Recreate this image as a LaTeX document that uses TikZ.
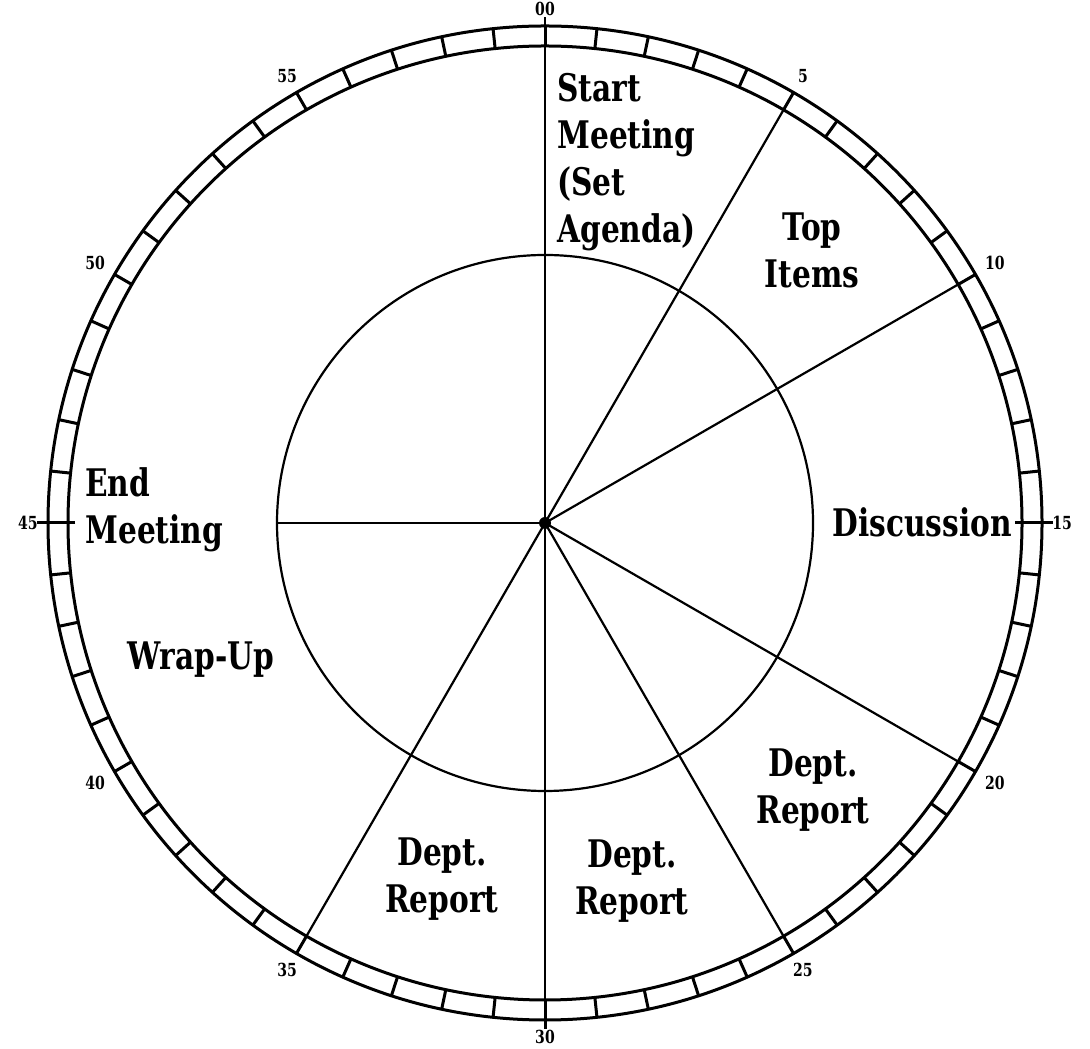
\documentclass[tikz,border=0pt]{standalone}
\usepackage{fontspec}
\setmainfont{DejaVu Serif}[FakeStretch=0.78]
\usetikzlibrary{calc}
\tikzset{
	ring/.style  = {line width=1.5pt, black},
	spoke/.style = {line width=1.1pt, black},
	lbl/.style   = {font=\fontsize{19}{23.5}\selectfont\bfseries, align=#1, inner sep=0pt},
	lbl/.default = center,
	num/.style   = {font=\fontsize{9}{10}\selectfont\bfseries, inner sep=2pt},
}

\begin{document}
\begin{tikzpicture}[x=0.5pt, y=0.5pt]
		
		\useasboundingbox (0,0) rectangle (1090,1048);
		
		%% centre of the dial
		\coordinate (c) at (545,525);
		
		%%═══════════════════════════════════════════════════════════════════
		%% DIAL RING   (outer r = 497, inner r = 477, 60 minute cells)
		%%═══════════════════════════════════════════════════════════════════
		\draw[ring] (c) circle[radius=497];
		\draw[ring] (c) circle[radius=477];
		\foreach \m in {0,...,59}
		\draw[ring] ($(c)+({90-6*\m}:477)$) -- ($(c)+({90-6*\m}:497)$);
		
		%% stubs on the quarter marks
		\draw[ring] ($(c)+(0:470)$)   -- ($(c)+(0:508)$);
		\draw[ring] ($(c)+(180:470)$) -- ($(c)+(180:508)$);
		\draw[ring] ($(c)+(270:477)$) -- ($(c)+(270:506)$);
		
		%% minute numbers
		\foreach \m/\t in {0/00,5/5,10/10,15/15,20/20,25/25,30/30,35/35,40/40,45/45,50/50,55/55}
		\node[num, anchor={270-6*\m}] (n\m) at ($(c)+({90-6*\m}:503)$) {\t};
		
		%% inner circle
		\draw[spoke] (c) circle[radius=268];
		
		%%═══════════════════════════════════════════════════════════════════
		%% SPOKES
		%%═══════════════════════════════════════════════════════════════════
		\foreach \m in {5,10,20,25,30,35}
		\coordinate (s\m) at ($(c)+({90-6*\m}:477)$);
		\coordinate (s0)  at ($(c)+(90:506)$);
		\coordinate (s45) at ($(c)+(180:268)$);
		\foreach \m in {0,5,10,20,25,30,35,45}
		\draw[spoke] (c) -- (s\m);
		\fill (c) circle[radius=6];
		
		%%═══════════════════════════════════════════════════════════════════
		%% AGENDA ITEMS
		%%═══════════════════════════════════════════════════════════════════
		\node[lbl=left, anchor=north west] (start) at (557,975)
		{Start\\Meeting\\(Set\\Agenda)};
		\node[lbl] (top)  at (812,798) {Top\\Items};
		\node[lbl] (disc) at (922,526) {Discussion};
		\node[lbl] (rep1) at (813,258) {Dept.\\Report};
		\node[lbl] (rep2) at (632,167) {Dept.\\Report};
		\node[lbl] (rep3) at (442,169) {Dept.\\Report};
		\node[lbl] (wrap) at (201,388) {Wrap-Up};
		\node[lbl=left, anchor=west] (end) at (85,538) {End\\Meeting};
		
	\end{tikzpicture}
\end{document}
